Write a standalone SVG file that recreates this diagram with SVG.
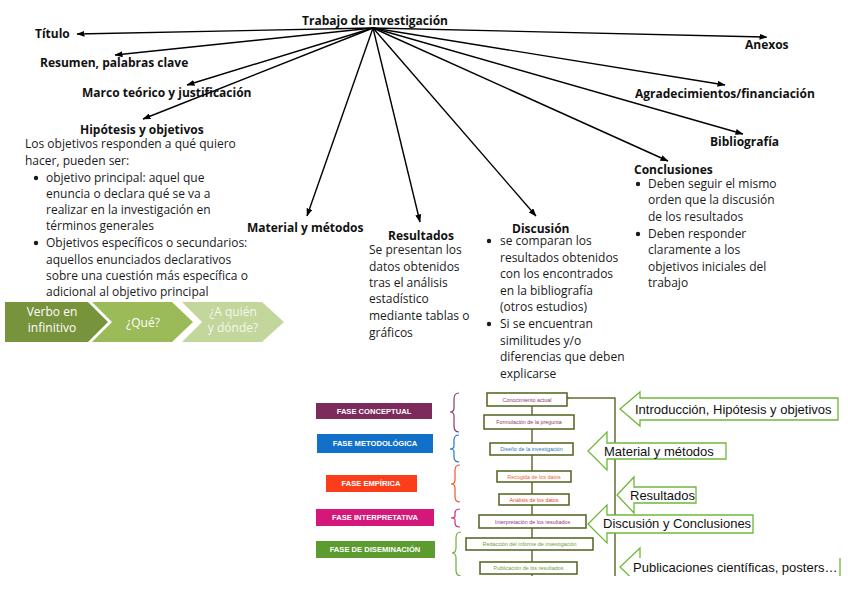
<svg xmlns="http://www.w3.org/2000/svg" width="848" height="600" viewBox="0 0 848 600">
<defs>
<marker id="ah" markerWidth="8" markerHeight="6" refX="7.5" refY="3" orient="auto" markerUnits="userSpaceOnUse">
<path d="M0,0 L8,3 L0,6 z" fill="#000"/>
</marker>
<marker id="ahg" markerWidth="7" markerHeight="6" refX="1" refY="3" orient="auto" markerUnits="userSpaceOnUse">
<path d="M7,0 L0,3 L7,6" fill="none" stroke="#6b7a35" stroke-width="1.3"/>
</marker>
<clipPath id="imgclip"><rect x="300" y="385" width="548" height="191"/></clipPath>
</defs>
<style>
.lbl{font-family:"Open Sans","Liberation Sans",sans-serif;font-weight:bold;font-size:12px;fill:#111}
.body{font-family:"Open Sans","Liberation Sans",sans-serif;font-size:12px;fill:#1a1a1a}
.chev{font-family:"Open Sans","Liberation Sans",sans-serif;font-size:12px;fill:#fff;text-anchor:middle}
.conn line{stroke:#000;stroke-width:1.4;marker-end:url(#ah)}
.phase{font-family:"Liberation Sans",Arial,sans-serif;font-weight:bold;font-size:7.6px;fill:#fff;text-anchor:middle}
.fbox{fill:#fff;stroke:#5a6b2a;stroke-width:1.6}
.ftxt{font-family:"Liberation Sans",Arial,sans-serif;font-size:5.4px;text-anchor:middle}
.call{fill:#fff;stroke:#6fb83a;stroke-width:1.3}
.ctxt{font-family:"Liberation Sans",Arial,sans-serif;font-size:13px;fill:#111}
.brace{fill:none;stroke-width:1.2}
</style>

<g id="connectors" class="conn">
<line x1="373" y1="28" x2="77" y2="34"/>
<line x1="373" y1="28" x2="115" y2="55"/>
<line x1="373" y1="28" x2="187" y2="85"/>
<line x1="373" y1="28" x2="143" y2="119"/>
<line x1="373" y1="28" x2="307" y2="216"/>
<line x1="373" y1="28" x2="420" y2="222"/>
<line x1="373" y1="28" x2="536" y2="216"/>
<line x1="373" y1="28" x2="668" y2="161"/>
<line x1="373" y1="28" x2="743" y2="134"/>
<line x1="373" y1="28" x2="725" y2="85"/>
<line x1="373" y1="28" x2="767" y2="37"/>
</g>

<g id="root"><text class="lbl" x="302" y="25">Trabajo de investigación</text></g>
<g id="titulo"><text class="lbl" x="35" y="38">Título</text></g>
<g id="resumen"><text class="lbl" x="40" y="67">Resumen, palabras clave</text></g>
<g id="marco"><text class="lbl" x="82" y="97">Marco teórico y justificación</text></g>
<g id="anexos"><text class="lbl" x="745" y="49">Anexos</text></g>
<g id="agradecimientos"><text class="lbl" x="635" y="98">Agradecimientos/financiación</text></g>
<g id="bibliografia"><text class="lbl" x="710" y="146">Bibliografía</text></g>

<g id="hipotesis">
<text class="lbl" x="80" y="134">Hipótesis y objetivos</text>
<text class="body" x="25" y="148">Los objetivos responden a qué quiero</text>
<text class="body" x="25" y="165">hacer, pueden ser:</text>
<circle cx="36" cy="178" r="2.2" fill="#1a1a1a"/>
<text class="body" x="46" y="182">objetivo principal: aquel que</text>
<text class="body" x="46" y="198">enuncia o declara qué se va a</text>
<text class="body" x="46" y="214">realizar en la investigación en</text>
<text class="body" x="46" y="230">términos generales</text>
<circle cx="36" cy="243" r="2.2" fill="#1a1a1a"/>
<text class="body" x="46" y="247">Objetivos específicos o secundarios:</text>
<text class="body" x="46" y="264">aquellos enunciados declarativos</text>
<text class="body" x="46" y="280">sobre una cuestión más específica o</text>
<text class="body" x="46" y="296">adicional al objetivo principal</text>
</g>

<g id="chevrons">
<polygon points="5,302 88,302 108,322 88,342 5,342" fill="#77933c"/>
<polygon points="92,302 172,302 193,322 172,342 92,342 112,322" fill="#9bbb59"/>
<polygon points="182,302 262,302 284,322 262,342 182,342 202,322" fill="#c3d69b"/>
<text class="chev" x="52" y="316">Verbo en</text>
<text class="chev" x="52" y="332">infinitivo</text>
<text class="chev" x="143" y="327">¿Qué?</text>
<text class="chev" x="233" y="316" fill-opacity="0.85">¿A quién</text>
<text class="chev" x="233" y="332" fill-opacity="0.85">y dónde?</text>
</g>

<g id="material"><text class="lbl" x="247" y="232">Material y métodos</text></g>

<g id="resultados">
<text class="lbl" x="388" y="240">Resultados</text>
<text class="body" x="369" y="254">Se presentan los</text>
<text class="body" x="369" y="271">datos obtenidos</text>
<text class="body" x="369" y="287">tras el análisis</text>
<text class="body" x="369" y="303">estadístico</text>
<text class="body" x="369" y="320">mediante tablas o</text>
<text class="body" x="369" y="337">gráficos</text>
</g>

<g id="discusion">
<text class="lbl" x="512" y="233">Discusión</text>
<circle cx="489" cy="241" r="2.2" fill="#1a1a1a"/>
<text class="body" x="500" y="245">se comparan los</text>
<text class="body" x="500" y="262">resultados obtenidos</text>
<text class="body" x="500" y="278">con los encontrados</text>
<text class="body" x="500" y="295">en la bibliografía</text>
<text class="body" x="500" y="311">(otros estudios)</text>
<circle cx="489" cy="324" r="2.2" fill="#1a1a1a"/>
<text class="body" x="500" y="328">Si se encuentran</text>
<text class="body" x="500" y="345">similitudes y/o</text>
<text class="body" x="500" y="361">diferencias que deben</text>
<text class="body" x="500" y="378">explicarse</text>
</g>

<g id="conclusiones">
<text class="lbl" x="634" y="174">Conclusiones</text>
<circle cx="638" cy="184" r="2.2" fill="#1a1a1a"/>
<text class="body" x="648" y="188">Deben seguir el mismo</text>
<text class="body" x="648" y="204">orden que la discusión</text>
<text class="body" x="648" y="221">de los resultados</text>
<circle cx="638" cy="234" r="2.2" fill="#1a1a1a"/>
<text class="body" x="648" y="238">Deben responder</text>
<text class="body" x="648" y="254">claramente a los</text>
<text class="body" x="648" y="271">objetivos iniciales del</text>
<text class="body" x="648" y="287">trabajo</text>
</g>

<g id="fases" clip-path="url(#imgclip)">
<g id="phase-boxes">
<rect x="316" y="403" width="116" height="16" fill="#7d2b5c"/>
<text class="phase" x="374" y="414">FASE CONCEPTUAL</text>
<rect x="317" y="434" width="116" height="19" fill="#1170c8"/>
<text class="phase" x="375" y="446">FASE METODOLÓGICA</text>
<rect x="326" y="475" width="91" height="17" fill="#fc3d1c"/>
<text class="phase" x="371" y="486">FASE EMPÍRICA</text>
<rect x="316" y="509" width="118" height="17" fill="#d5177b"/>
<text class="phase" x="375" y="520">FASE INTERPRETATIVA</text>
<rect x="316" y="541" width="119" height="17" fill="#5c9c2e"/>
<text class="phase" x="375" y="552">FASE DE DISEMINACIÓN</text>
</g>
<g id="braces">
<path class="brace" stroke="#8a3a70" d="M459,393 Q454,393 454,399 L454,408 Q454,412 450,412 Q454,412 454,416 L454,426 Q454,432 459,432"/>
<path class="brace" stroke="#1f78c8" d="M459,435 Q454,435 454,440 L454,446 Q454,449 450,449 Q454,449 454,452 L454,457 Q454,462 459,462"/>
<path class="brace" stroke="#f2552e" d="M460,465 Q455,465 455,470 L455,480 Q455,484 451,484 Q455,484 455,488 L455,497 Q455,502 460,502"/>
<path class="brace" stroke="#c0307a" d="M460,509 Q455,509 455,513 L455,516 Q455,518 451,518 Q455,518 455,520 L455,523 Q455,527 460,527"/>
<path class="brace" stroke="#6fae3c" d="M461,532 Q456,532 456,538 L456,548 Q456,553 452,553 Q456,553 456,558 L456,570 Q456,576 461,576"/>
</g>
<g id="flow-lines" stroke="#5f6f2e" stroke-width="1.5" fill="none">
<line x1="532" y1="406" x2="532" y2="576"/>
<path d="M615,576 L615,398 L568,398" marker-end="url(#ahg)"/>
</g>
<g id="flow-boxes">
<rect class="fbox" x="487" y="393" width="80" height="13"/>
<text class="ftxt" x="527" y="401.5" fill="#8b3a6b">Conocimiento actual</text>
<rect class="fbox" x="484" y="415" width="90" height="14"/>
<text class="ftxt" x="529" y="424" fill="#8b3a6b">Formulación de la pregunta</text>
<rect class="fbox" x="490" y="443" width="83" height="12"/>
<text class="ftxt" x="531.5" y="451" fill="#2e75b6">Diseño de la investigación</text>
<rect class="fbox" x="497" y="471" width="74" height="11"/>
<text class="ftxt" x="534" y="478.5" fill="#f0643c">Recogida de los datos</text>
<rect class="fbox" x="499" y="494" width="70" height="11"/>
<text class="ftxt" x="534" y="501.5" fill="#e8452a">Análisis de los datos</text>
<rect class="fbox" x="479" y="515" width="107" height="13"/>
<text class="ftxt" x="532.5" y="523.5" fill="#a0308a">Interpretación de los resultados</text>
<rect class="fbox" x="466" y="538" width="127" height="12"/>
<text class="ftxt" x="529.5" y="546" fill="#70a040">Redacción del informe de investigación</text>
<rect class="fbox" x="480" y="562" width="97" height="12"/>
<text class="ftxt" x="528.5" y="570" fill="#70a040">Publicación de los resultados</text>
</g>
<g id="callouts">
<path class="call" d="M640,398 L640,392 L620,409 L640,426 L640,420 L838,420 L838,398 Z"/>
<text class="ctxt" x="635" y="414">Introducción, Hipótesis y objetivos</text>
<path class="call" d="M607,443 L607,432 L588,451 L607,470 L607,459 L726,459 L726,443 Z"/>
<text class="ctxt" x="604" y="456">Material y métodos</text>
<path class="call" d="M634,487 L634,477 L617,495 L634,513 L634,503 L696,503 L696,487 Z"/>
<text class="ctxt" x="630" y="500">Resultados</text>
<path class="call" d="M607,515 L607,505 L588,524 L607,543 L607,533 L753,533 L753,515 Z"/>
<text class="ctxt" x="603" y="528">Discusión y Conclusiones</text>
<path class="call" d="M640,558 L640,548 L620,567 L640,586 L640,578 L840,578 L840,558"/>
<text class="ctxt" x="633" y="572">Publicaciones científicas, posters…</text>
</g>
</g>
</svg>
